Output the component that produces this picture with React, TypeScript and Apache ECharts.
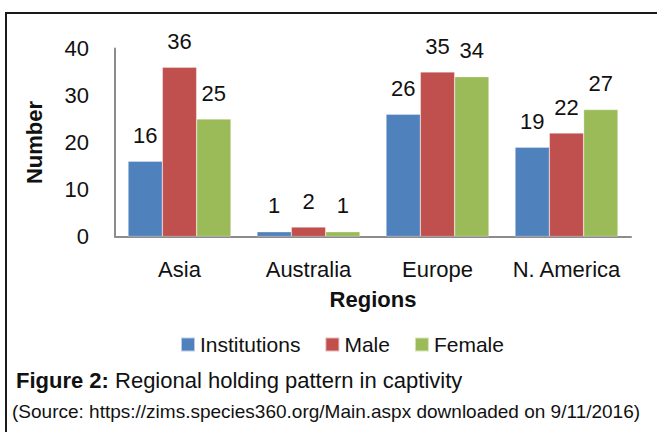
import React, { useEffect, useRef } from "react";
import * as echarts from "echarts";

const regions = ["Asia", "Australia", "Europe", "N. America"];
const institutions = [16, 1, 26, 19];
const male = [36, 2, 35, 22];
const female = [25, 1, 34, 27];
const yTicks = { min: 0, max: 40, interval: 10 };
const seriesNames = ["Institutions", "Male", "Female"];
const colors = ["#4F81BD", "#C0504D", "#9BBB59"];
const captionTitle = "Figure 2:";
const captionText = " Regional holding pattern in captivity";
const sourceText = "(Source: https://zims.species360.org/Main.aspx downloaded on 9/11/2016)";

const FONT = '"Liberation Sans", Arial, Helvetica, sans-serif';

export default function App() {
  const ref = useRef<HTMLDivElement>(null);
  useEffect(() => {
    if (!ref.current) return;
    const chart = echarts.init(ref.current, null, { renderer: "svg" });
    const values = [institutions, male, female];
    chart.setOption({
      animation: false,
      backgroundColor: "#ffffff",
      textStyle: { fontFamily: FONT },
      grid: { left: 115, right: 26, top: 48.5, bottom: 195.5, containLabel: false },
      legend: {
        data: seriesNames,
        left: 175,
        top: 329,
        icon: "rect",
        itemWidth: 14,
        itemHeight: 14,
        itemGap: 24,
        textStyle: { fontFamily: FONT, fontSize: 21, color: "#111" },
      },
      xAxis: {
        type: "category",
        data: regions,
        name: "Regions",
        nameLocation: "middle",
        nameGap: 52,
        nameTextStyle: { fontFamily: FONT, fontSize: 22, fontWeight: "bold", color: "#111" },
        axisLine: { lineStyle: { color: "#8c8c8c", width: 2 } },
        axisTick: { show: false },
        axisLabel: { interval: 0, fontFamily: FONT, fontSize: 22, color: "#111", margin: 22 },
      },
      yAxis: {
        type: "value",
        min: yTicks.min,
        max: yTicks.max,
        interval: yTicks.interval,
        name: "Number",
        nameLocation: "middle",
        nameGap: 70,
        nameTextStyle: { fontFamily: FONT, fontSize: 22, fontWeight: "bold", color: "#111" },
        axisLine: { show: true, lineStyle: { color: "#8c8c8c", width: 2 } },
        axisTick: { show: false },
        splitLine: { show: false },
        axisLabel: { fontFamily: FONT, fontSize: 22, color: "#111", margin: 26 },
      },
      series: seriesNames.map((name, i) => ({
        name,
        type: "bar",
        data: values[i],
        barWidth: 34.3,
        barGap: "0%",
        itemStyle: { color: colors[i], borderColor: "rgba(255,255,255,0.6)", borderWidth: 0.5 },
        label: {
          show: true,
          position: "top",
          distance: 15,
          fontFamily: FONT,
          fontSize: 22,
          color: "#111",
        },
      })),
      graphic: [
        {
          type: "rect",
          shape: { x: 6, y: 13, width: 800, height: 600 },
          style: { fill: "none", stroke: "#1a1a1a", lineWidth: 2 },
          silent: true,
        },
        {
          type: "text",
          left: 16,
          top: 369,
          style: {
            rich: {
              b: { fontFamily: FONT, fontSize: 22, fontWeight: "bold", fill: "#111" },
              n: { fontFamily: FONT, fontSize: 22, fill: "#111" },
            },
            text: "{b|" + captionTitle + "}{n|" + captionText + "}",
          },
        },
        {
          type: "text",
          x: 12,
          y: 402,
          style: { text: sourceText, fontFamily: FONT, fontSize: 19, fill: "#111" },
        },
      ],
    });
    return () => chart.dispose();
  }, []);
  return (
    <div
      ref={ref}
      style={{ position: "fixed", left: 0, top: 0, width: 657, height: 432 }}
    />
  );
}
